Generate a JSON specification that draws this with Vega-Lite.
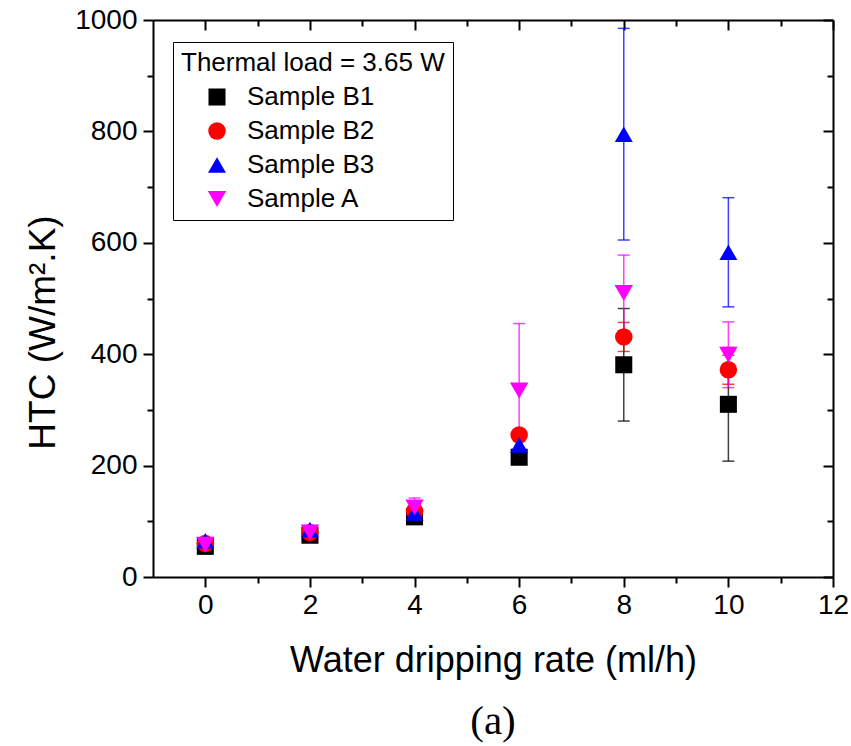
{
  "$schema": "https://vega.github.io/schema/vega-lite/v6.json",
  "width": 680,
  "height": 557,
  "autosize": {"type": "none"},
  "padding": {"left": 153, "top": 20, "right": 18, "bottom": 169},
  "background": "white",
  "config": {
    "view": {"stroke": null},
    "font": "Liberation Sans",
    "axis": {
      "domainColor": "black", "domainWidth": 2, "tickColor": "black", "tickWidth": 2,
      "labelColor": "black", "titleColor": "black", "grid": false,
      "labelFont": "Liberation Sans", "titleFont": "Liberation Sans",
      "labelFontSize": 28, "titleFontSize": 36, "titleFontWeight": "normal",
      "labelOverlap": false, "labelFlush": false
    },
    "legend": {
      "orient": "none", "legendX": 20, "legendY": 22,
      "strokeColor": "black", "padding": 8, "titleFontSize": 26, "titleFont": "Liberation Sans", "titleFontWeight": "normal", "titleColor": "black", "titleLimit": 500,
      "labelFontSize": 26, "labelFont": "Liberation Sans", "labelColor": "black", "symbolOffset": 23, "labelOffset": 17, "rowPadding": 8, "titlePadding": 8, "fillColor": "white", "symbolStrokeWidth": 0, "symbolOpacity": 1
    }
  },
  "title": {"text": "(a)", "orient": "bottom", "font": "Liberation Serif", "fontSize": 41, "fontWeight": "normal", "color": "black", "offset": 24},
  "data": {"values": [
    {"rate": 0, "series": "Sample B1", "htc": 55, "lo": 50, "hi": 60},
    {"rate": 2, "series": "Sample B1", "htc": 75, "lo": 70, "hi": 80},
    {"rate": 4, "series": "Sample B1", "htc": 108, "lo": 102, "hi": 114},
    {"rate": 6, "series": "Sample B1", "htc": 215, "lo": 209, "hi": 221},
    {"rate": 8, "series": "Sample B1", "htc": 381, "lo": 280, "hi": 482},
    {"rate": 10, "series": "Sample B1", "htc": 310, "lo": 208, "hi": 412},
    {"rate": 0, "series": "Sample B2", "htc": 60, "lo": 55, "hi": 65},
    {"rate": 2, "series": "Sample B2", "htc": 80, "lo": 75, "hi": 85},
    {"rate": 4, "series": "Sample B2", "htc": 118, "lo": 110, "hi": 126},
    {"rate": 6, "series": "Sample B2", "htc": 255, "lo": 249, "hi": 261},
    {"rate": 8, "series": "Sample B2", "htc": 431, "lo": 405, "hi": 457},
    {"rate": 10, "series": "Sample B2", "htc": 372, "lo": 346, "hi": 398},
    {"rate": 0, "series": "Sample B3", "htc": 65, "lo": 60, "hi": 70},
    {"rate": 2, "series": "Sample B3", "htc": 85, "lo": 80, "hi": 90},
    {"rate": 4, "series": "Sample B3", "htc": 115, "lo": 107, "hi": 123},
    {"rate": 6, "series": "Sample B3", "htc": 237, "lo": 229, "hi": 245},
    {"rate": 8, "series": "Sample B3", "htc": 795, "lo": 605, "hi": 985},
    {"rate": 10, "series": "Sample B3", "htc": 583, "lo": 485, "hi": 681},
    {"rate": 0, "series": "Sample A", "htc": 58, "lo": 52, "hi": 64},
    {"rate": 2, "series": "Sample A", "htc": 80, "lo": 74, "hi": 86},
    {"rate": 4, "series": "Sample A", "htc": 125, "lo": 108, "hi": 142},
    {"rate": 6, "series": "Sample A", "htc": 335, "lo": 215, "hi": 455},
    {"rate": 8, "series": "Sample A", "htc": 510, "lo": 442, "hi": 578},
    {"rate": 10, "series": "Sample A", "htc": 399, "lo": 340, "hi": 458}
  ]},
  "layer": [
    {
      "mark": {"type": "errorbar", "ticks": {"size": 12, "thickness": 1.5, "opacity": 0.75}, "rule": {"opacity": 0.75}, "thickness": 1.5},
      "encoding": {
        "x": {"field": "rate", "type": "quantitative",
          "scale": {"domain": [-1, 12], "nice": false, "zero": false},
          "axis": {"orient": "bottom", "title": "Water dripping rate (ml/h)", "values": [0,1,2,3,4,5,6,7,8,9,10,11,12],
            "labelExpr": "datum.value % 2 === 0 ? datum.label : ''",
            "tickSize": {"condition": {"test": "datum.value % 2 === 0", "value": 10}, "value": 6},
            "labelPadding": 4, "titlePadding": 24}},
        "y": {"field": "lo", "type": "quantitative",
          "scale": {"domain": [0, 1000], "nice": false},
          "axis": {"orient": "left", "title": "HTC (W/m².K)", "values": [0,100,200,300,400,500,600,700,800,900,1000],
            "format": "d", "titleFontSize": 37, "titleY": 312,
            "labelExpr": "datum.value % 200 === 0 ? datum.label : ''",
            "tickSize": {"condition": {"test": "datum.value % 200 === 0", "value": 10}, "value": 6},
            "labelPadding": 6, "titlePadding": 12}},
        "y2": {"field": "hi"},
        "color": {"field": "series", "type": "nominal", "title": "Thermal load = 3.65 W"}
      }
    },
    {
      "mark": {"type": "point", "filled": true, "opacity": 1, "strokeWidth": 0},
      "encoding": {
        "x": {"field": "rate", "type": "quantitative",
          "axis": {"orient": "top", "title": null, "labels": false, "values": [0,1,2,3,4,5,6,7,8,9,10,11,12],
            "tickSize": {"condition": {"test": "datum.value % 2 === 0", "value": -10}, "value": -6}}},
        "y": {"field": "htc", "type": "quantitative",
          "axis": {"orient": "right", "title": null, "labels": false, "values": [0,100,200,300,400,500,600,700,800,900,1000],
            "tickSize": {"condition": {"test": "datum.value % 200 === 0", "value": -10}, "value": -6}}},
        "color": {"field": "series", "type": "nominal", "title": "Thermal load = 3.65 W",
          "scale": {"domain": ["Sample B1", "Sample B2", "Sample B3", "Sample A"], "range": ["#000000", "#ff0000", "#0000ff", "#ff00ff"]}},
        "shape": {"field": "series", "type": "nominal", "title": "Thermal load = 3.65 W",
          "scale": {"domain": ["Sample B1", "Sample B2", "Sample B3", "Sample A"], "range": ["square", "circle", "triangle-up", "triangle-down"]}},
        "size": {"field": "series", "type": "nominal", "title": "Thermal load = 3.65 W",
          "scale": {"domain": ["Sample B1", "Sample B2", "Sample B3", "Sample A"], "range": [290, 340, 460, 460]}}
      }
    }
  ],
  "resolve": {"axis": {"x": "independent", "y": "independent"}}
}
